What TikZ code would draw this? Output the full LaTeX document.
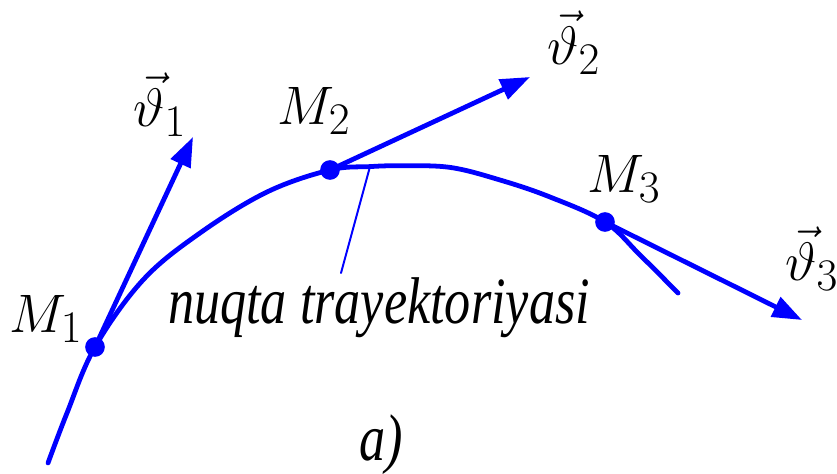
\documentclass[tikz,border=0pt]{standalone}
\usepackage{fontspec}
\setmainfont{Liberation Serif}
\usepackage{tikz}
\usetikzlibrary{arrows.meta}
\definecolor{trackblue}{HTML}{0000FF}
\definecolor{ink}{HTML}{000000}
\tikzset{
    every picture/.style={line cap=round,line join=round},
    trackline/.style={draw=trackblue,line width=3.4pt},
    velarrow/.style={-{Triangle[length=21pt,width=15pt]},draw=trackblue,
      line width=3.4pt},
    pinline/.style={draw=trackblue,line width=1.4pt},
    pointdot/.style={circle,fill=trackblue,minimum size=14pt,inner sep=0pt},
    marklabel/.style={text=ink,inner sep=1pt,scale=1.55,transform shape,
      font=\fontsize{24.88}{30}\selectfont},
    textlabel/.style={text=ink,inner sep=1pt,xscale=0.79,transform shape,
      font=\fontsize{47}{56}\selectfont\itshape}
}
\begin{document}
\begin{tikzpicture}
  \useasboundingbox (0,0) rectangle (20.925,11.825);
  % points on the path and the tips of the velocity vectors
  \coordinate (M1) at (2.375,3.15);
  \coordinate (M2) at (8.25,7.575);
  \coordinate (M3) at (15.125,6.275);
  \coordinate (v1) at (4.825,8.40);
  \coordinate (v2) at (13.25,9.90);
  \coordinate (v3) at (20.05,3.825);
  \coordinate (pin) at (9.25,7.66);
  \coordinate (pinend) at (8.525,5.00);

  \draw[trackline] plot[smooth,tension=0.6] coordinates {(1.20,0.25)
    (1.675,1.50) (M1) (3.575,4.825) (5.00,6.00) (6.675,7.025) (M2)
    (pin) (10.00,7.68) (11.25,7.64) (12.50,7.325) (13.75,6.90) (M3)
    (16.00,5.45) (16.95,4.50)};
  \draw[velarrow] (M1) -- (v1);
  \draw[velarrow] (M2) -- (v2);
  \draw[velarrow] (M3) -- (v3);
  \draw[pinline] (pin) -- (pinend);
  \foreach \p in {M1,M2,M3}
    \node[pointdot] (dot\p) at (\p) {};

  \node[marklabel] (lv1) at (4.00,9.20) {$\vec{\vartheta}_1$};
  \node[marklabel] (lv2) at (14.35,10.75) {$\vec{\vartheta}_2$};
  \node[marklabel] (lv3) at (20.30,5.35) {$\vec{\vartheta}_3$};
  \node[marklabel] (lM1) at (1.15,3.85) {$M_1$};
  \node[marklabel] (lM2) at (7.85,9.05) {$M_2$};
  \node[marklabel] (lM3) at (15.60,7.35) {$M_3$};
  \node[textlabel,anchor=base] (pathname) at (9.475,3.75)
    {nuqta trayektoriyasi};
  \node[textlabel,anchor=base] (caption) at (9.525,0.325) {a)};
\end{tikzpicture}
\end{document}
